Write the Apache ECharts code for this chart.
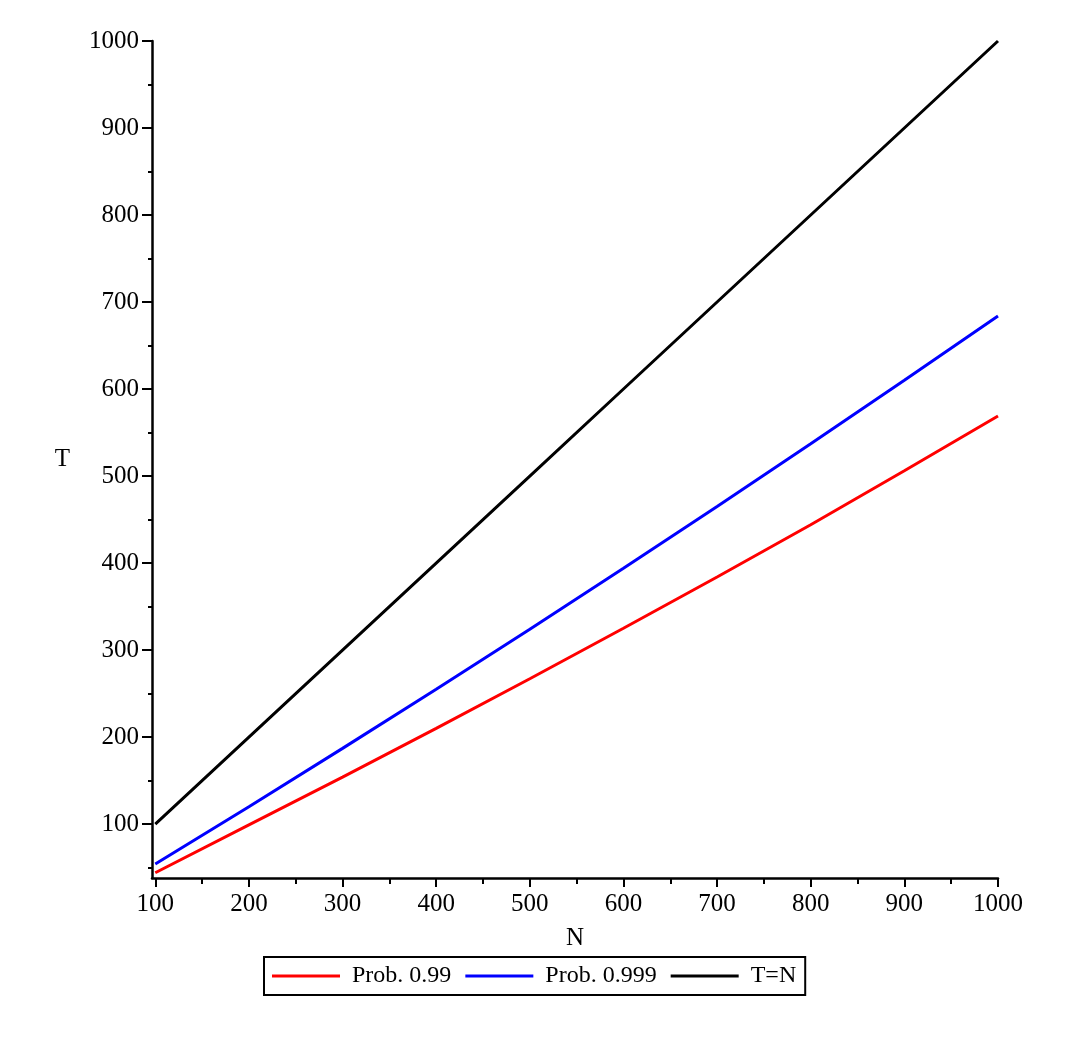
<!DOCTYPE html>
<html>
<head>
<meta charset="utf-8">
<script src="https://cdn.jsdelivr.net/npm/echarts@6/dist/echarts.min.js"></script>
<style>
    html, body { margin: 0; padding: 0; background: #fff; }
    #chart { width: 1074px; height: 1040px; }
</style>
</head>
<body>
<div id="chart"></div>
<script>
// 图表数据
const nValues = [100, 200, 300, 400, 500, 600, 700, 800, 900, 1000];
const prob099 = [44, 99, 154, 210, 267, 325, 384, 444, 506, 569];
const prob0999 = [54, 120, 187, 255, 324, 394, 465, 537, 610, 684];
const identity = [100, 200, 300, 400, 500, 600, 700, 800, 900, 1000];

const xMajorTicks = [100, 200, 300, 400, 500, 600, 700, 800, 900, 1000];
const xMinorTicks = [150, 250, 350, 450, 550, 650, 750, 850, 950];
const yMajorTicks = [100, 200, 300, 400, 500, 600, 700, 800, 900, 1000];
const yMinorTicks = [50, 150, 250, 350, 450, 550, 650, 750, 850, 950];

const seriesNames = ['Prob. 0.99', 'Prob. 0.999', 'T=N'];

function pairs(ys) {
    return nValues.map((n, i) => [n, ys[i]]);
}

/**
 * 初始化图表
 */
function initChart() {
    let chart = echarts.init(document.getElementById('chart'));
    const font = 'Liberation Serif';
    const plain = v => String(v);

    let option = {
        animation: false,
        textStyle: { fontFamily: font, color: '#000' },
        grid: { left: 152, right: 76, top: 41, bottom: 162 },
        legend: {
            data: seriesNames,
            left: 264,
            top: 957,
            orient: 'horizontal',
            icon: 'rect',
            borderColor: '#000',
            borderWidth: 2,
            borderRadius: 0,
            padding: [7, 9, 7, 8],
            itemWidth: 68,
            itemHeight: 3,
            itemGap: 14,
            textStyle: { fontFamily: font, fontSize: 24, color: '#000', padding: [0, 0, 0, 7] }
        },
        xAxis: [
            {
                type: 'value',
                min: 96.5,
                max: 1000,
                name: 'N',
                nameLocation: 'middle',
                nameGap: 48,
                nameTextStyle: { fontFamily: font, fontSize: 25, color: '#000' },
                axisLine: { onZero: false, lineStyle: { color: '#000', width: 2.5 } },
                axisTick: { customValues: xMajorTicks, length: 9, lineStyle: { color: '#000', width: 2 } },
                axisLabel: { customValues: xMajorTicks, formatter: plain, margin: 14, fontFamily: font, fontSize: 25, color: '#000' },
                splitLine: { show: false }
            },
            {
                type: 'value',
                min: 96.5,
                max: 1000,
                position: 'bottom',
                axisLine: { show: false },
                axisTick: { customValues: xMinorTicks, length: 6, lineStyle: { color: '#000', width: 2 } },
                axisLabel: { show: false },
                splitLine: { show: false }
            }
        ],
        yAxis: [
            {
                type: 'value',
                min: 38,
                max: 1000,
                name: 'T',
                nameLocation: 'middle',
                nameRotate: 0,
                nameGap: 82,
                nameTextStyle: { fontFamily: font, fontSize: 25, color: '#000' },
                axisLine: { show: true, onZero: false, lineStyle: { color: '#000', width: 2.5 } },
                axisTick: { show: true, customValues: yMajorTicks, length: 10, lineStyle: { color: '#000', width: 2 } },
                axisLabel: { customValues: yMajorTicks, formatter: plain, margin: 13, fontFamily: font, fontSize: 25, color: '#000' },
                splitLine: { show: false }
            },
            {
                type: 'value',
                min: 38,
                max: 1000,
                position: 'left',
                axisLine: { show: false },
                axisTick: { show: true, customValues: yMinorTicks, length: 4, lineStyle: { color: '#000', width: 2 } },
                axisLabel: { show: false },
                splitLine: { show: false }
            }
        ],
        series: [
            {
                name: seriesNames[0],
                type: 'line',
                symbol: 'none',
                color: '#ff0000',
                lineStyle: { width: 3, color: '#ff0000' },
                data: pairs(prob099)
            },
            {
                name: seriesNames[1],
                type: 'line',
                symbol: 'none',
                color: '#0000ff',
                lineStyle: { width: 3, color: '#0000ff' },
                data: pairs(prob0999)
            },
            {
                name: seriesNames[2],
                type: 'line',
                symbol: 'none',
                color: '#000000',
                lineStyle: { width: 3, color: '#000000' },
                data: pairs(identity)
            }
        ]
    };

    chart.setOption(option);
}

initChart();
</script>
</body>
</html>
